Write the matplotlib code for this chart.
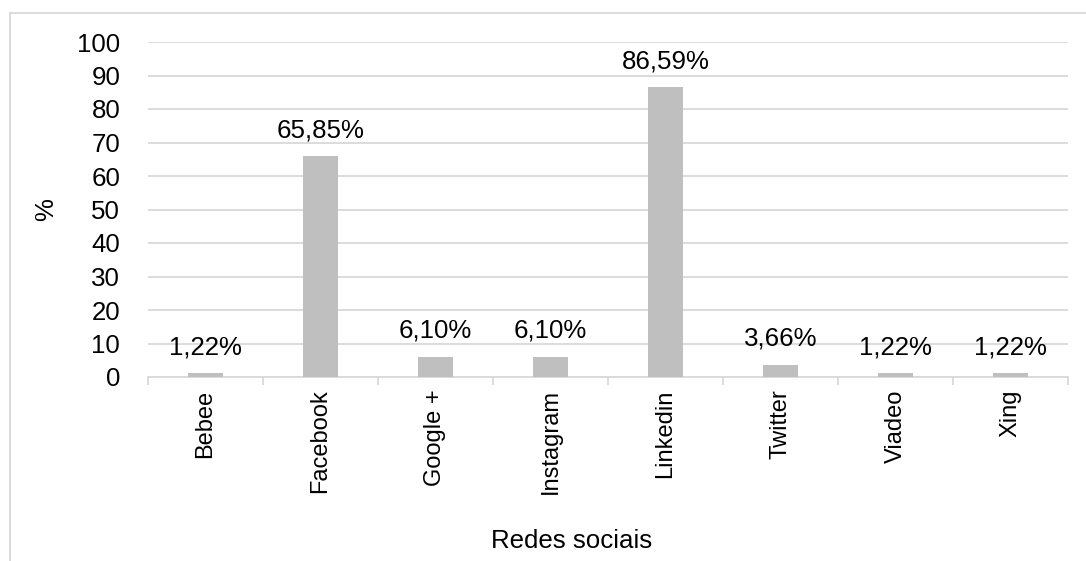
"""Bar chart: use of social networks (%)."""

import matplotlib
matplotlib.use('Agg')
import matplotlib.pyplot as plt
from matplotlib.lines import Line2D
import numpy as np

CATEGORIES = ['Bebee', 'Facebook', 'Google +', 'Instagram', 'Linkedin',
              'Twitter', 'Viadeo', 'Xing']
VALUES = [1.22, 65.85, 6.10, 6.10, 86.59, 3.66, 1.22, 1.22]
Y_TICKS = list(range(0, 101, 10))

BAR_COLOR = '#BFBFBF'
GRID_COLOR = '#D9D9D9'
FONT_SIZE = 18.6
XTICK_SIZE = 17.0

plt.rcParams['font.family'] = ['Liberation Sans', 'DejaVu Sans']


def main() -> None:
    W, H = 1086, 561
    fig = plt.figure(figsize=(W / 100, H / 100), dpi=100)
    ax = fig.add_axes([148 / W, 1 - 377 / H, 920 / W, 335 / H])

    x = np.arange(len(CATEGORIES))
    ax.bar(x, VALUES, width=0.31, color=BAR_COLOR, zorder=3)

    for xi, v in zip(x, VALUES):
        ax.annotate(f'{v:.2f}%'.replace('.', ','), (xi, v),
                    xytext=(0, 10), textcoords='offset points',
                    ha='center', va='bottom', fontsize=FONT_SIZE, color='black',
                    zorder=4)

    ax.set_xlim(-0.5, len(CATEGORIES) - 0.5)
    ax.set_ylim(0, 100)
    ax.set_yticks(Y_TICKS)
    ax.yaxis.grid(True, color=GRID_COLOR, lw=1.3, zorder=0)
    ax.set_axisbelow(True)

    ax.set_xticks(x)
    ax.set_xticklabels(CATEGORIES, rotation=90, va='top', ha='center')
    ax.set_xticks(np.arange(-0.5, len(CATEGORIES)), minor=True)
    ax.tick_params(axis='x', which='major', length=0, pad=9,
                   labelsize=XTICK_SIZE)
    ax.tick_params(axis='x', which='minor', length=6, width=1.3,
                   color=GRID_COLOR)
    ax.tick_params(axis='y', length=0, pad=20, labelsize=FONT_SIZE)

    for side in ('top', 'right', 'left'):
        ax.spines[side].set_visible(False)
    ax.spines['bottom'].set_color(GRID_COLOR)
    ax.spines['bottom'].set_linewidth(1.3)

    ax.set_ylabel('%', fontsize=FONT_SIZE)
    ax.yaxis.set_label_coords((58 - 148) / 920, 0.5)
    ax.set_xlabel('Redes sociais', fontsize=FONT_SIZE)
    ax.xaxis.set_label_coords((572 - 148) / 920, (377 - 541) / 335)
    ax.xaxis.label.set_va('center')

    # outer chart frame (only top and left edges are visible in the crop)
    fx = 10 / W
    fy = 1 - 13 / H
    fig.add_artist(Line2D([fx, 1.0], [fy, fy], color=GRID_COLOR, lw=1.3,
                          transform=fig.transFigure))
    fig.add_artist(Line2D([fx, fx], [0.0, fy], color=GRID_COLOR, lw=1.3,
                          transform=fig.transFigure))

    fig.savefig('out.png', dpi=100)
    plt.close(fig)


if __name__ == '__main__':
    main()
